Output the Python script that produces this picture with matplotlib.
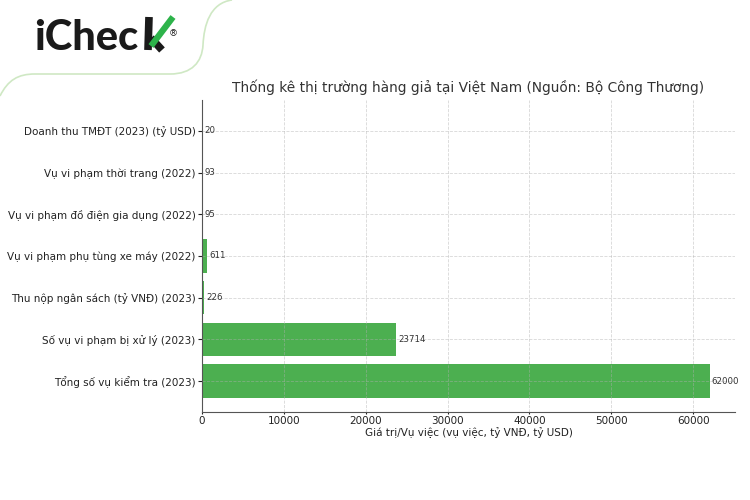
import matplotlib.pyplot as plt
from matplotlib.path import Path
from matplotlib.patches import PathPatch

categories = [
    "Tổng số vụ kiểm tra (2023)",
    "Số vụ vi phạm bị xử lý (2023)",
    "Thu nộp ngân sách (tỷ VNĐ) (2023)",
    "Vụ vi phạm phụ tùng xe máy (2022)",
    "Vụ vi phạm đồ điện gia dụng (2022)",
    "Vụ vi phạm thời trang (2022)",
    "Doanh thu TMĐT (2023) (tỷ USD)",
]
values = [62000, 23714, 226, 611, 95, 93, 20]

fig = plt.figure(figsize=(7.5, 5), dpi=100)
ax = fig.add_axes([0.2693, 0.176, 0.7107, 0.624])

ax.barh(categories, values, color="#4CAF50", height=0.8)
for i, v in enumerate(values):
    ax.text(v + 250, i, str(v), va="center", ha="left", fontsize=6.2, color="#333333")

ax.set_title("Thống kê thị trường hàng giả tại Việt Nam (Nguồn: Bộ Công Thương)",
             fontsize=9.9, color="#333333")
ax.set_xlabel("Giá trị/Vụ việc (vụ việc, tỷ VNĐ, tỷ USD)", fontsize=7.5, color="#222222", labelpad=1)
ax.tick_params(labelsize=7.5, colors="#222222")
ax.tick_params(axis="y", pad=1.5, length=3)
ax.tick_params(axis="x", pad=1.5, length=1.5)
ax.grid(True, linestyle="--", alpha=0.5, linewidth=0.6)
ax.spines["top"].set_visible(False)
ax.spines["right"].set_visible(False)
ax.spines["left"].set_color("#555555")
ax.spines["bottom"].set_color("#555555")


def px(x, y):
    # pixel coords from top-left -> figure fraction
    return x / 750, 1 - y / 500


# logo tab outline
verts = [(0, 96), (8, 80), (18, 74), (35, 74), (170, 74), (192, 74),
         (202, 62), (203, 45), (204, 25), (210, 3), (232, 0)]
codes = [Path.MOVETO, Path.CURVE4, Path.CURVE4, Path.CURVE4, Path.LINETO,
         Path.CURVE4, Path.CURVE4, Path.CURVE4, Path.CURVE4, Path.CURVE4, Path.CURVE4]
fig.add_artist(PathPatch(Path([px(x, y) for x, y in verts], codes),
                         transform=fig.transFigure, fill=False,
                         edgecolor="#cfe8c4", linewidth=1.2))

# logo: "iChec" as text, the "k" drawn with a green check arm
x0, y0 = px(34, 50)
fig.text(x0, y0, "iChec", fontsize=30, fontweight="black",
         color="#1a1a1a", va="baseline", ha="left", family="Lato")
kx = 149


def seg(p, q, color, lw=5.5):
    (xa, ya), (xb, yb) = px(*p), px(*q)
    fig.add_artist(plt.Line2D([xa, xb], [ya, yb], transform=fig.transFigure,
                              color=color, linewidth=lw, solid_capstyle="butt"))


seg((kx, 17), (kx - 1, 50), "#1a1a1a")
seg((kx + 2, 38), (kx + 13, 50), "#1a1a1a")
seg((kx + 2, 46), (kx + 24, 17), "#2db34a", 4.5)
xr, yr = px(kx + 20, 34)
fig.text(xr, yr, "®", fontsize=6.5, color="#1a1a1a", va="center", ha="left")

fig.savefig("out.png", dpi=100)
